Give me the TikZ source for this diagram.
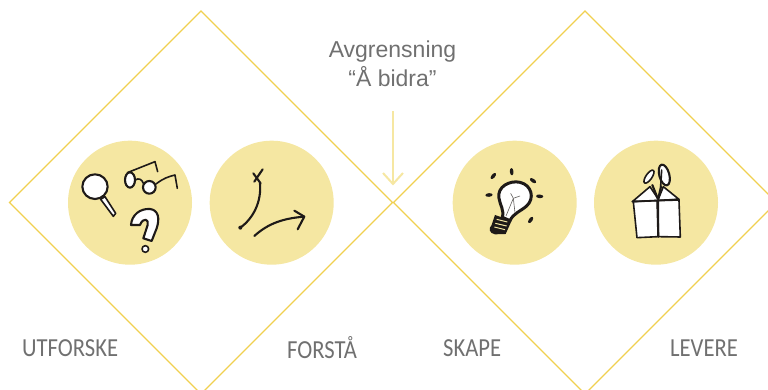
\documentclass[tikz,border=0pt]{standalone}
\usepackage{fontspec}
\setmainfont{Liberation Sans}
\newfontfamily\labelfont[FakeStretch=0.87]{Carlito}
\definecolor{diam}{HTML}{F0D050}
\definecolor{disc}{HTML}{F5E7A2}
\definecolor{arrowc}{HTML}{F6E7A2}
\definecolor{txt}{HTML}{707070}
\definecolor{ink}{HTML}{1E1A18}
\tikzset{
 diamondline/.style={draw=diam,line width=1.1pt,line join=miter},
 disk/.style={circle,fill=disc,draw=none,minimum size=124pt,inner sep=0pt},
 heading/.style={text=txt,align=center,font=\fontsize{23}{29}\selectfont},
 steplabel/.style={text=txt,inner sep=0pt,font=\labelfont\fontsize{26}{28}\selectfont},
 ink1/.style={draw=ink,line width=1.6pt,line cap=round,line join=round},
 ink2/.style={draw=ink,line width=2.1pt,line cap=round,line join=round},
 inkw/.style={ink1,fill=white},
}
\begin{document}
\begin{tikzpicture}[x=1pt,y=-1pt]
\useasboundingbox (0,0) rectangle (768,390);
\draw[diamondline] (9.5,202.5) -- (201,11) -- (392.5,202.5) -- (201,394) -- cycle;
\draw[diamondline] (393.5,202.5) -- (585,11) -- (776.5,202.5) -- (585,394) -- cycle;
\node[disk] (d1) at (130,202.7) {};
\node[disk] (d2) at (271.7,202.7) {};
\node[disk] (d3) at (514.7,202.7) {};
\node[disk] (d4) at (656,202.7) {};
\node[heading] (head) at (392.5,63.5) {Avgrensning\\“Å bidra”};
\coordinate (arrowtop) at (393,111);
\coordinate (arrowtip) at (393,184);
\coordinate (barbL) at (383,173);
\coordinate (barbR) at (403,173);
\draw[draw=arrowc,line width=2pt] (arrowtop) -- (arrowtip);
\draw[draw=arrowc,line width=2pt,line join=miter] (barbL) -- (arrowtip) -- (barbR);
\node[steplabel,anchor=west] (l1) at (22,348) {UTFORSKE};
\node[steplabel,anchor=west] (l2) at (287,348) {FORSTÅ};
\node[steplabel,anchor=west] (l3) at (443,348) {SKAPE};
\node[steplabel,anchor=west] (l4) at (670,348) {LEVERE};
% icon 1
\begin{scope}[shift={(60,130)},x=0.3333pt,y=-0.3333pt]
\draw[inkw] (122,208) -- (135,200) -- (167,250) -- (160,259) -- cycle;
\draw[ink2,fill=white] (105,170) circle[x radius=38,y radius=37];
\draw[ink2,fill=white] (210,150) ellipse[x radius=15,y radius=23];
\draw[ink2,fill=white] (268,172) circle[radius=19];
\draw[ink1] (226,150) .. controls (236,143) and (246,148) .. (250,160);
\draw[ink1] (202,128) -- (285,95) -- (293,125);
\draw[ink1] (288,162) .. controls (310,145) and (325,140) .. (345,135) -- (352,175);
\draw[ink2,fill=white] (213,285) .. controls (215,255) and (240,235) .. (270,237)
  .. controls (295,240) and (300,265) .. (290,295) -- (275,333) -- (250,325) -- (263,285)
  .. controls (268,268) and (250,260) .. (240,285) -- cycle;
\draw[ink1,fill=white] (256,357) circle[radius=10];
% icon 2 arrows
\draw[ink2] (541,293) .. controls (580,265) and (605,215) .. (600,160);
\fill[ink] (541,293) circle[radius=6];
\draw[ink2] (580,130) -- (602,160);
\draw[ink2] (608,118) -- (583,155);
\draw[ink2] (583,318) .. controls (625,280) and (670,265) .. (733,260);
\draw[ink2] (703,242) -- (733,260) -- (713,298);
\end{scope}
% icon 3 and 4
\begin{scope}[shift={(445,130)},x=0.3333pt,y=-0.3333pt]
\foreach \px/\py/\rot in {145/138/50,200/125/95,264/152/-35,284/199/-5,257/270/55,132/195/5}
  \fill[ink,rotate around={\rot:(\px,\py)}] (\px,\py) ellipse[x radius=11,y radius=5.5];
\draw[ink,line width=3pt,fill=white,line join=round] (172,262)
  .. controls (178,240) and (165,225) .. (162,205)
  .. controls (155,170) and (195,150) .. (225,157)
  .. controls (260,165) and (270,205) .. (245,228)
  .. controls (225,245) and (205,250) .. (195,272) -- cycle;
\draw[draw=ink!70,line width=0.6pt] (183,258) -- (205,205) -- (197,190);
\draw[draw=ink!70,line width=0.6pt] (205,205) -- (225,198);
\draw[draw=ink!70,line width=0.6pt] (205,205) -- (210,248);
\fill[ink] (150,255) -- (200,272) -- (182,312) -- (150,313)
  .. controls (132,310) and (130,295) .. (140,285) -- cycle;
\draw[disc,line width=1pt] (155,268) -- (187,276);
\draw[disc,line width=1pt] (151,280) -- (185,288);
\draw[disc,line width=1pt] (148,291) -- (180,299);
%
\draw[inkw] (562,215) -- (615,170) -- (640,208) -- (655,170) -- (702,208) -- (640,212) -- cycle;
\draw[inkw] (565,215) -- (638,212) -- (640,320) -- (576,323) -- cycle;
\draw[inkw] (640,212) -- (702,210) -- (706,321) -- (640,320) -- cycle;
\draw[ink1] (562,215) -- (702,208);
\draw[ink2] (637,212) -- (640,320);
\draw[inkw,rotate around={-35:(612,140)}] (612,140) ellipse[x radius=9,y radius=23];
\draw[ink2,fill=white,rotate around={15:(658,135)}] (658,135) ellipse[x radius=15,y radius=32];
\draw[ink2] (622,165) -- (638,205);
\draw[ink2] (648,170) -- (640,205);
\draw[ink1] (650,120) -- (647,170);
\end{scope}
\end{tikzpicture}
\end{document}
